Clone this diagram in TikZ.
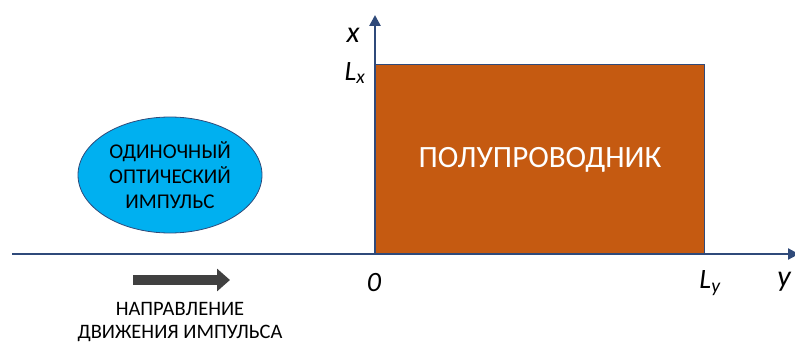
\documentclass[tikz,border=0pt]{standalone}
\usepackage{fontspec}
\setmainfont{Carlito}
\usetikzlibrary{arrows.meta,shapes.geometric}
\definecolor{axisblue}{HTML}{2F4A7A}
\definecolor{semicolor}{HTML}{C55A11}
\definecolor{pulseblue}{HTML}{00B0F0}
\definecolor{arrowgray}{HTML}{404040}
\begin{document}
\begin{tikzpicture}[x=1pt, y=-1pt, >={Triangle[length=11pt, width=11pt]}]
    \useasboundingbox (0,0) rectangle (795,345);

    \coordinate (O) at (375,254);
    \coordinate (Xend) at (375,15);
    \coordinate (Ystart) at (12,254);
    \coordinate (Yend) at (799,254);

    % semiconductor block
    \draw[semicolor, fill=semicolor] (O) rectangle (704,64);
    \draw[axisblue, line width=0.8pt] (375,64) -- (704,64) -- (704,254);
    \node[white, font=\fontsize{31}{36}\selectfont] (semi) at (540,160) {ПОЛУПРОВОДНИК};

    % axes
    \draw[->, axisblue, line width=2.2pt] (Ystart) -- (Yend);
    \draw[->, axisblue, line width=2.6pt] (O) -- (Xend);

    \node[font=\fontsize{30}{34}\selectfont\itshape] (xlab) at (353,35) {x};
    \node[font=\fontsize{28}{32}\selectfont\itshape] (Lx) at (355,73) {L\textsubscript{x}};
    \node[font=\fontsize{28}{32}\selectfont\itshape] (zero) at (374,283) {0};
    \node[font=\fontsize{28}{32}\selectfont\itshape] (Ly) at (710,283) {L\textsubscript{y}};
    \node[font=\fontsize{30}{34}\selectfont\itshape] (ylab) at (784,282) {y};

    % optical pulse
    \node[ellipse, draw=axisblue, fill=pulseblue, line width=0.8pt,
        minimum width=184pt, minimum height=116pt, align=center,
        font=\fontsize{21}{25}\selectfont] (pulse) at (170,175)
        {ОДИНОЧНЫЙ\\ОПТИЧЕСКИЙ\\ИМПУЛЬС};

    % direction of motion
    \coordinate (dirA) at (133,280);
    \coordinate (dirB) at (230,280);
    \draw[arrowgray, line width=10pt,
        -{Triangle[length=13pt, width=22pt]}] (dirA) -- (dirB);
    \node[align=center, font=\fontsize{20.5}{23}\selectfont] (dirtext) at (180,322)
        {НАПРАВЛЕНИЕ\\ДВИЖЕНИЯ ИМПУЛЬСА};
\end{tikzpicture}
\end{document}
